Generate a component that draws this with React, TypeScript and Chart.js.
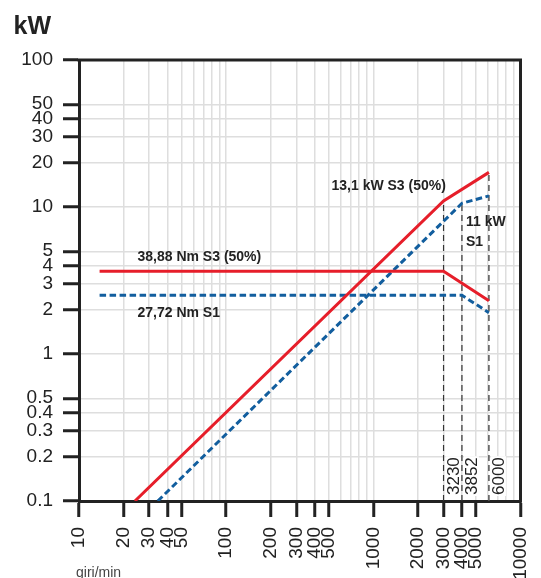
import React, { useEffect, useRef } from 'react';
import { Chart, registerables } from 'chart.js';

Chart.register(...registerables);

const FONT = 'Liberation Sans, Arial, Helvetica, sans-serif';

// x axis (giri/min) tick values and labelled ticks
const xTickValues = [10, 20, 30, 40, 50, 60, 70, 80, 90, 100, 200, 300, 400, 500, 600, 700, 800, 900, 1000, 2000, 3000, 4000, 5000, 6000, 7000, 8000, 9000, 10000];
const xTickLabels = [10, 20, 30, 40, 50, 100, 200, 300, 400, 500, 1000, 2000, 3000, 4000, 5000, 10000];
// y axis (kW) ticks
const yTickValues = [0.1, 0.2, 0.3, 0.4, 0.5, 1, 2, 3, 4, 5, 10, 20, 30, 40, 50, 100];

// series
const powerS3X = [24, 3000, 6100];
const powerS3Y = [0.1, 11.0, 17.2];
const powerS1X = [34.3, 4000, 6100];
const powerS1Y = [0.1, 10.6, 11.9];
const torqueS3X = [13.8, 3000, 6100];
const torqueS3Y = [3.65, 3.65, 2.3];
const torqueS1X = [13.8, 4000, 6100];
const torqueS1Y = [2.51, 2.51, 1.91];

// vertical speed markers
const markerX = [3000, 4000, 6100];
const markerTopY = [11.0, 10.6, 17.2];
const markerLabels = ['3230', '3852', '6000'];

const RED = '#e61e2a';
const BLUE = '#125e9e';

const pts = (xs: number[], ys: number[]) => xs.map((x, i) => ({ x, y: ys[i] }));

const annotationPlugin = {
  id: 'annotations',
  afterDatasetsDraw(chart: any) {
    const { ctx, scales } = chart;
    const xs = scales.x;
    const ys = scales.y;
    ctx.save();
    // marker labels (rotated)
    ctx.font = `17px ${FONT}`;
    markerLabels.forEach((lab, i) => {
      const px = xs.getPixelForValue(markerX[i]);
      const py = ys.bottom - 6;
      ctx.save();
      ctx.translate(px + 15, py);
      ctx.rotate(-Math.PI / 2);
      const w = ctx.measureText(lab).width;
      ctx.fillStyle = '#fff';
      ctx.fillRect(-1, -13, w + 2, 15);
      ctx.fillStyle = '#222';
      ctx.textAlign = 'left';
      ctx.textBaseline = 'alphabetic';
      ctx.fillText(lab, 0, 0);
      ctx.restore();
    });
    // text annotations
    ctx.font = `bold 14px ${FONT}`;
    ctx.fillStyle = '#222';
    ctx.textAlign = 'left';
    ctx.textBaseline = 'alphabetic';
    ctx.fillText('13,1 kW S3 (50%)', 331.5, 190);
    ctx.fillText('11 kW', 466, 226);
    ctx.fillText('S1', 466, 246);
    ctx.fillText('38,88 Nm S3 (50%)', 137.5, 261);
    ctx.fillText('27,72 Nm S1', 137.5, 317);
    ctx.restore();
  },
  afterDraw(chart: any) {
    const { ctx, chartArea } = chart;
    ctx.save();
    ctx.strokeStyle = '#222';
    ctx.lineWidth = 3;
    ctx.beginPath();
    ctx.moveTo(chartArea.left - 1.5, chartArea.top);
    ctx.lineTo(chartArea.right, chartArea.top);
    ctx.lineTo(chartArea.right, chartArea.bottom + 1.5);
    ctx.stroke();
    // titles
    ctx.fillStyle = '#222';
    ctx.font = `bold 25px ${FONT}`;
    ctx.textAlign = 'left';
    ctx.textBaseline = 'alphabetic';
    ctx.fillText('kW', 13.5, 34);
    ctx.font = `14px ${FONT}`;
    ctx.fillStyle = '#444';
    ctx.fillText('giri/min', 76, 577);
    ctx.restore();
  },
};

export default function App() {
  const ref = useRef<HTMLCanvasElement | null>(null);
  useEffect(() => {
    if (!ref.current) return;
    const markerSets = markerX.map((mx, i) => ({
      data: pts([mx, mx], [0.1, markerTopY[i]]),
      borderColor: i === 2 ? '#555' : '#333',
      borderWidth: i === 2 ? 1.5 : 1.2,
      borderDash: [6, 4],
      pointRadius: 0,
      order: 3,
    }));
    const chart = new Chart(ref.current, {
      type: 'line',
      data: {
        datasets: [
          { data: pts(powerS3X, powerS3Y), borderColor: RED, borderWidth: 3, pointRadius: 0, order: 0 },
          { data: pts(torqueS3X, torqueS3Y), borderColor: RED, borderWidth: 3, pointRadius: 0, order: 0 },
          { data: pts(powerS1X, powerS1Y), borderColor: BLUE, borderWidth: 3, borderDash: [6.5, 3.5], pointRadius: 0, order: 1 },
          { data: pts(torqueS1X, torqueS1Y), borderColor: BLUE, borderWidth: 3, borderDash: [6.5, 3.5], pointRadius: 0, order: 1 },
          ...markerSets,
        ] as any,
      },
      options: {
        responsive: false,
        animation: false,
        events: [],
        layout: { padding: { top: 60, right: 20.5, left: 0, bottom: 0 } },
        plugins: { legend: { display: false }, tooltip: { enabled: false } },
        elements: { line: { tension: 0, fill: false } },
        scales: {
          x: {
            type: 'logarithmic',
            min: 10,
            max: 10000,
            afterBuildTicks: (s: any) => {
              s.ticks = xTickValues.map((v) => ({ value: v }));
            },
            afterFit: (s: any) => {
              s.height = 77;
              s.paddingLeft = 0;
              s.paddingRight = 0;
            },
            ticks: {
              autoSkip: false,
              minRotation: 90,
              maxRotation: 90,
              padding: 10,
              color: '#222',
              font: { size: 19, family: FONT },
              callback: (v: any) => (xTickLabels.includes(Number(v)) ? String(v) : ''),
            },
            grid: {
              color: '#dedede',
              lineWidth: 1.5,
              tickLength: 16,
              tickWidth: 3,
              tickColor: (c: any) => (c.tick && xTickLabels.includes(c.tick.value) ? '#222' : 'rgba(0,0,0,0)'),
            },
            border: { color: '#222', width: 3 },
          } as any,
          y: {
            type: 'logarithmic',
            min: 0.1,
            max: 100,
            afterBuildTicks: (s: any) => {
              s.ticks = yTickValues.map((v) => ({ value: v }));
            },
            afterFit: (s: any) => {
              s.width = 79;
              s.paddingTop = 0;
              s.paddingBottom = 0;
            },
            ticks: {
              autoSkip: false,
              padding: 10,
              color: '#222',
              font: { size: 19, family: FONT },
              callback: (v: any) => String(v),
            },
            grid: {
              color: '#dedede',
              lineWidth: 1.5,
              tickLength: 16,
              tickWidth: 3,
              tickColor: '#222',
            },
            border: { color: '#222', width: 3 },
          } as any,
        },
      },
      plugins: [annotationPlugin],
    });
    return () => chart.destroy();
  }, []);
  return (
    <div style={{ position: 'absolute', left: 0, top: 0, width: 541, height: 578, background: '#fff' }}>
      <canvas ref={ref} width={541} height={578} style={{ display: 'block' }} />
    </div>
  );
}
